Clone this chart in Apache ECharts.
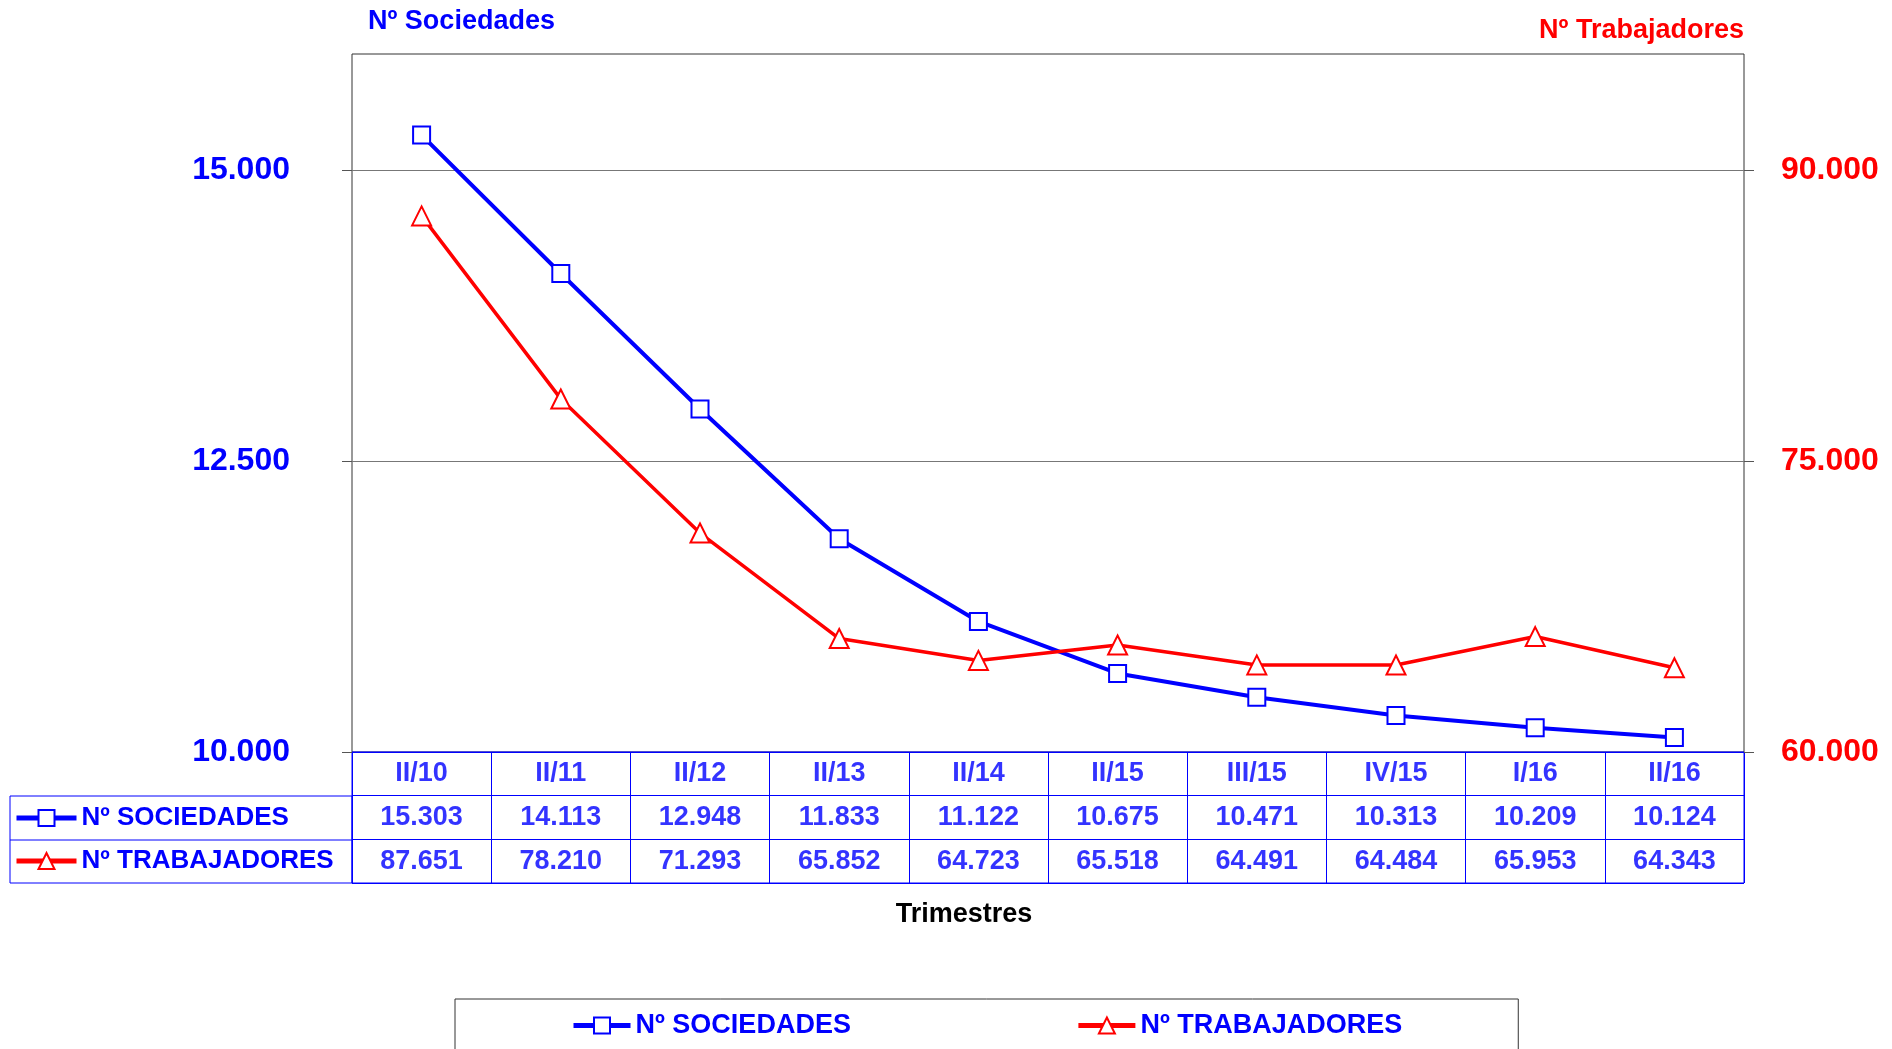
<!DOCTYPE html>
<html>
<head>
<meta charset="utf-8">
<title>Sociedades y trabajadores</title>
<script src="https://cdn.jsdelivr.net/npm/echarts@6/dist/echarts.min.js"></script>
<style>
  html, body { margin: 0; padding: 0; background: #fff; }
  #chart { width: 1892px; height: 1049px; }
</style>
</head>
<body>
<div id="chart"></div>
<script>
const categories = ['II/10', 'II/11', 'II/12', 'II/13', 'II/14', 'II/15', 'III/15', 'IV/15', 'I/16', 'II/16']
const sociedades = [15303, 14113, 12948, 11833, 11122, 10675, 10471, 10313, 10209, 10124]
const trabajadores = [87651, 78210, 71293, 65852, 64723, 65518, 64491, 64484, 65953, 64343]
const leftTicks = [10000, 12500, 15000]
const rightTicks = [60000, 75000, 90000]
const tableRows = ['header', 'soc', 'trab']

const FONT = '"Liberation Sans", Arial, sans-serif'
const BLUE = '#0000ff'
const RED = '#ff0000'

// 15303 -> "15.303"
const fmt = v => String(v).replace(/\B(?=(\d{3})+(?!\d))/g, '.')

// celdas de la tabla: [columna, fila, texto]
const tableCells = []
categories.forEach((c, i) => {
  tableCells.push([i, 0, c])
  tableCells.push([i, 1, fmt(sociedades[i])])
  tableCells.push([i, 2, fmt(trabajadores[i])])
})

const chart = echarts.init(document.getElementById('chart'))

const legendText = { color: BLUE, fontWeight: 'bold', fontSize: 27, fontFamily: FONT, lineHeight: 26 }

chart.setOption({
  animation: false,
  backgroundColor: '#fff',
  textStyle: { fontFamily: FONT },
  grid: [
    { left: 352, right: 148, top: 54, height: 698, show: true, borderColor: '#333', borderWidth: 1 },
    { left: 352, right: 148, top: 752, height: 131, show: true, borderColor: BLUE, borderWidth: 1 }
  ],
  legend: [
    {
      data: ['Nº SOCIEDADES', 'Nº TRABAJADORES'],
      left: 455, top: 999,
      padding: [13, 116, 30, 116],
      borderColor: '#333', borderWidth: 1,
      itemGap: 225, itemWidth: 57, itemHeight: 20,
      lineStyle: { width: 5 },
      textStyle: legendText,
      selectedMode: false
    },
    {
      data: ['Nº SOCIEDADES', 'Nº TRABAJADORES'],
      orient: 'vertical',
      left: 14, top: 805,
      padding: 0,
      itemGap: 17, itemWidth: 60, itemHeight: 20,
      lineStyle: { width: 5 },
      textStyle: Object.assign({}, legendText, { fontSize: 26 }),
      selectedMode: false
    }
  ],
  xAxis: [
    {
      type: 'category', gridIndex: 0, data: categories,
      axisLine: { show: false }, axisTick: { show: false }, axisLabel: { show: false }
    },
    {
      type: 'category', gridIndex: 1, data: categories,
      axisLine: { show: false }, axisTick: { show: false }, axisLabel: { show: false },
      splitLine: { show: true, lineStyle: { color: BLUE, width: 1 } }
    }
  ],
  yAxis: [
    {
      type: 'value', gridIndex: 0, min: 10000, max: 16000, interval: 2500,
      name: 'Nº Sociedades', nameLocation: 'end', nameGap: 32,
      nameTextStyle: { color: BLUE, fontWeight: 'bold', fontSize: 27, align: 'left', verticalAlign: 'middle', padding: [0, 0, 0, 16] },
      axisLine: { show: false },
      axisTick: { show: true, length: 10, customValues: leftTicks, lineStyle: { color: '#555' } },
      axisLabel: { customValues: leftTicks, margin: 62, color: BLUE, fontWeight: 'bold', fontSize: 32, padding: [8, 0, 0, 0], formatter: fmt },
      splitLine: { show: true, lineStyle: { color: '#777', width: 1 } }
    },
    {
      type: 'value', gridIndex: 0, position: 'right', min: 60000, max: 96000, interval: 15000,
      name: 'Nº Trabajadores', nameLocation: 'end', nameGap: 23,
      nameTextStyle: { color: RED, fontWeight: 'bold', fontSize: 27, align: 'right', verticalAlign: 'middle' },
      axisLine: { show: false },
      axisTick: { show: true, length: 10, customValues: rightTicks, lineStyle: { color: '#555' } },
      axisLabel: { customValues: rightTicks, margin: 37, color: RED, fontWeight: 'bold', fontSize: 32, padding: [8, 0, 0, 0], formatter: fmt },
      splitLine: { show: false }
    },
    {
      type: 'category', gridIndex: 1, data: tableRows, inverse: true,
      axisLine: { show: false }, axisTick: { show: false }, axisLabel: { show: false },
      splitLine: { show: true, lineStyle: { color: BLUE, width: 1 } }
    }
  ],
  series: [
    {
      name: 'Nº SOCIEDADES', type: 'line', xAxisIndex: 0, yAxisIndex: 0,
      data: sociedades,
      symbol: 'emptyRect', symbolSize: 17,
      lineStyle: { color: BLUE, width: 4 },
      itemStyle: { color: BLUE, borderWidth: 2 },
      silent: true
    },
    {
      name: 'Nº TRABAJADORES', type: 'line', xAxisIndex: 0, yAxisIndex: 1,
      data: trabajadores,
      symbol: 'emptyTriangle', symbolSize: 19,
      lineStyle: { color: RED, width: 3.5 },
      itemStyle: { color: RED, borderWidth: 2 },
      silent: true
    },
    {
      type: 'scatter', xAxisIndex: 1, yAxisIndex: 2,
      data: tableCells,
      symbolSize: 1,
      itemStyle: { color: 'transparent' },
      label: {
        show: true, position: 'inside',
        color: BLUE, fontWeight: 'bold', fontSize: 27, fontFamily: FONT,
        formatter: p => p.value[2]
      },
      silent: true
    }
  ],
  graphic: [
    {
      type: 'rect', shape: { x: 10, y: 796, width: 342, height: 87 },
      style: { fill: 'none', stroke: BLUE, lineWidth: 1 }
    },
    {
      type: 'line', shape: { x1: 10, y1: 840, x2: 352, y2: 840 },
      style: { stroke: BLUE, lineWidth: 1 }
    },
    {
      type: 'text', x: 964, y: 915,
      style: { text: 'Trimestres', fill: '#000', font: 'bold 27px ' + FONT, textAlign: 'center', textVerticalAlign: 'middle' }
    }
  ]
})
</script>
</body>
</html>
